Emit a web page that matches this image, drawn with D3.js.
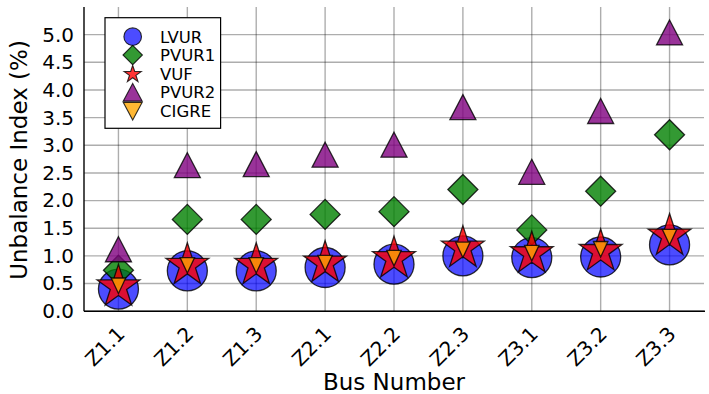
<!DOCTYPE html>
<html><head><meta charset="utf-8">
<script src="https://cdn.jsdelivr.net/npm/d3@7"></script>
<style>
html,body{margin:0;padding:0;background:#fff;}
svg{display:block;font-family:"DejaVu Sans",sans-serif;}
</style></head>
<body><svg id="chart" width="709" height="394"></svg>
<script>
const categories = ["Z1.1","Z1.2","Z1.3","Z2.1","Z2.2","Z2.3","Z3.1","Z3.2","Z3.3"];
const LVUR  = [0.40, 0.73, 0.73, 0.79, 0.85, 1.00, 0.97, 0.98, 1.20];
const PVUR1 = [0.74, 1.66, 1.66, 1.75, 1.80, 2.20, 1.47, 2.17, 3.19];
const VUF   = [0.44, 0.83, 0.83, 0.87, 0.95, 1.14, 1.04, 1.08, 1.36];
const PVUR2 = [1.12, 2.64, 2.66, 2.83, 3.01, 3.69, 2.52, 3.62, 5.04];
const CIGRE = [0.46, 0.83, 0.83, 0.87, 0.96, 1.11, 1.05, 1.12, 1.34];
const yTicks = [0,0.5,1,1.5,2,2.5,3,3.5,4,4.5,5];
const yLabel = "Unbalance Index (%)";
const xLabel = "Bus Number";

const svg = d3.select("#chart");
const L = 84, R = 704, T = 7, B = 311.2;
const x = d3.scaleLinear().domain([0, categories.length]).range([L, R]);
const y = d3.scaleLinear().domain([0, 5.5]).range([B, T]);

// grid
const g = svg.append("g");
g.selectAll(".hg").data(yTicks).join("line")
  .attr("x1", L).attr("x2", R).attr("y1", d => y(d)).attr("y2", d => y(d))
  .attr("stroke", "#000").attr("stroke-opacity", 0.32).attr("stroke-width", 1.4);
g.selectAll(".vg").data(categories).join("line")
  .attr("x1", (d,i) => x(i+0.5)).attr("x2", (d,i) => x(i+0.5)).attr("y1", T).attr("y2", B)
  .attr("stroke", "#000").attr("stroke-opacity", 0.32).attr("stroke-width", 1.4);

// axes
const yAxis = d3.axisLeft(y).tickValues(yTicks).tickFormat(d3.format(".1f")).tickSize(0).tickPadding(10);
const ya = svg.append("g").attr("transform", `translate(${L},0)`).call(yAxis);
ya.select(".domain").remove();
ya.selectAll("text").attr("font-size", 20).attr("font-family", "DejaVu Sans").attr("fill", "#000");

const xAxis = d3.axisBottom(x).tickValues(categories.map((d,i)=>i+0.5)).tickFormat((d,i)=>categories[i]).tickSize(0);
const xa = svg.append("g").attr("transform", `translate(0,${B})`).call(xAxis);
xa.select(".domain").remove();
xa.selectAll("text").attr("font-size", 20).attr("font-family", "DejaVu Sans").attr("fill", "#000")
  .attr("text-anchor", "end").attr("dy", null).attr("y", 0)
  .attr("transform", "translate(7,24) rotate(-45)");

svg.append("line").attr("x1", L).attr("x2", L).attr("y1", T).attr("y2", B).attr("stroke", "#000").attr("stroke-width", 1.4);
svg.append("line").attr("x1", L).attr("x2", R+1).attr("y1", B).attr("y2", B).attr("stroke", "#000").attr("stroke-width", 1.4);

svg.append("text").attr("transform", `translate(27,160) rotate(-90)`).attr("text-anchor", "middle")
  .attr("font-size", 23).text(yLabel);
svg.append("text").attr("x", (L+R)/2).attr("y", 390).attr("text-anchor", "middle")
  .attr("font-size", 23).text(xLabel);

// shapes
function starPath(Ro){
  const ri = Ro*0.382, pts=[];
  for(let k=0;k<10;k++){const r=k%2?ri:Ro;const a=-Math.PI/2+k*Math.PI/5;pts.push([r*Math.cos(a), r*Math.sin(a)]);}
  return "M"+pts.map(p=>p.join(",")).join("L")+"Z";
}
function circlePath(r){return `M${-r},0A${r},${r} 0 1,0 ${r},0A${r},${r} 0 1,0 ${-r},0Z`;}
function diamondPath(h){return `M0,${-h}L${h},0L0,${h}L${-h},0Z`;}
function utriPath(w,h){return `M0,${-h/2}L${w/2},${h/2}L${-w/2},${h/2}Z`;}
function dtriPath(w,h){return `M0,${h/2}L${w/2},${-h/2}L${-w/2},${-h/2}Z`;}

const series = [
  {name:"LVUR", data:LVUR, color:"#0000ff", op:0.7, path:circlePath(20), lpath:circlePath(8.8)},
  {name:"PVUR1", data:PVUR1, color:"#008000", op:0.8, path:diamondPath(15), lpath:diamondPath(9.7)},
  {name:"VUF", data:VUF, color:"#ff0000", op:0.8, path:starPath(22.5), lpath:starPath(9)},
  {name:"PVUR2", data:PVUR2, color:"#800080", op:0.8, path:utriPath(26,25), lpath:utriPath(19,17.7)},
  {name:"CIGRE", data:CIGRE, color:"#ffa500", op:0.8, path:dtriPath(14.5,15.5), lpath:dtriPath(19,17.7)}
];

const mk = svg.append("g");
series.forEach(s=>{
  mk.append("g").selectAll("path").data(s.data).join("path")
    .attr("d", s.path)
    .attr("transform", (d,i)=>`translate(${x(i+0.5)},${y(d)})`)
    .attr("fill", s.color).attr("fill-opacity", s.op)
    .attr("stroke", "#000").attr("stroke-opacity", 0.8).attr("stroke-width", 1.3);
});

// legend
const lg = svg.append("g");
lg.append("rect").attr("x", 105).attr("y", 17.7).attr("width", 115.6).attr("height", 110.6)
  .attr("fill", "#fff").attr("stroke", "#000").attr("stroke-width", 1.2);
const ly = [36.7, 55, 74.3, 92.3, 111.2];
series.forEach((s,i)=>{
  lg.append("path").attr("d", s.lpath).attr("transform", `translate(132.7,${ly[i]})`)
    .attr("fill", s.color).attr("fill-opacity", s.op)
    .attr("stroke", "#000").attr("stroke-opacity", 0.8).attr("stroke-width", 1.1);
  lg.append("text").attr("x", 160).attr("y", ly[i]).attr("dy", "0.36em")
    .attr("font-size", 16.5).text(s.name);
});
</script></body></html>
